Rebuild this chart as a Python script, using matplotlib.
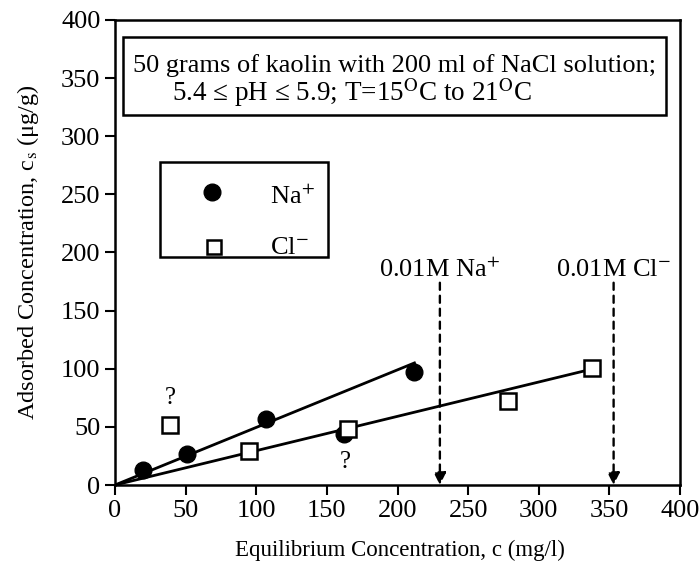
import matplotlib
matplotlib.use("Agg")
import matplotlib.pyplot as plt
from matplotlib.patches import Rectangle

plt.rcParams['font.family'] = ['Liberation Serif', 'DejaVu Serif']
plt.rcParams['mathtext.fontset'] = 'stix'

# Data
na_x = [20, 51, 107, 162, 212]
na_y = [13, 27, 57, 44, 97]
cl_x = [39, 95, 165, 278, 338]
cl_y = [52, 29, 48, 72, 101]
na_fit_x = [0, 212]
na_fit_y = [0, 105]
cl_fit_x = [0, 342]
cl_fit_y = [0, 101]
na_limit = 230
cl_limit = 353
x_ticks = [0, 50, 100, 150, 200, 250, 300, 350, 400]
y_ticks = [0, 50, 100, 150, 200, 250, 300, 350, 400]

fig = plt.figure(figsize=(7.0, 5.72), dpi=100)
ax = fig.add_axes([115/700, 87/572, 565/700, 465/572])

ax.plot(na_fit_x, na_fit_y, color='black', lw=2)
ax.plot(cl_fit_x, cl_fit_y, color='black', lw=2)
ax.plot(na_x, na_y, 'o', color='black', ms=12, zorder=5)
ax.plot(cl_x, cl_y, 's', mfc='white', mec='black', mew=1.8, ms=12, zorder=5)

ax.text(39, 75, '?', ha='center', va='center', fontsize=18)
ax.text(163, 20, '?', ha='center', va='center', fontsize=18)

for xl, lab in [(na_limit, '0.01M Na$^{+}$'), (cl_limit, '0.01M Cl$^{-}$')]:
    ax.annotate('', xy=(xl, 0), xytext=(xl, 174),
                arrowprops=dict(arrowstyle='-|>', linestyle=(0, (3, 2.5)), color='black',
                                lw=1.7, mutation_scale=18, shrinkA=0, shrinkB=0))
    ax.text(xl, 185, lab, ha='center', va='center', fontsize=19)

# Info box
ax.add_patch(Rectangle((5.7, 318), 390 - 5.7, 385 - 318, fill=False, lw=1.8, ec='black', zorder=4))
ax.text(198, 361, '50 grams of kaolin with 200 ml of NaCl solution;', ha='center', va='center', fontsize=19)
ax.text(40.5, 337.5, '5.4 \u2264 pH \u2264 5.9; T=15$^{\\mathrm{O}}$C to 21$^{\\mathrm{O}}$C', ha='left', va='center', fontsize=19.5)

# Legend box
ax.add_patch(Rectangle((32, 196), 151 - 32, 278 - 196, fill=False, lw=1.8, ec='black', zorder=4))
ax.plot([69], [252], 'o', color='black', ms=12)
ax.plot([70], [205], 's', mfc='white', mec='black', mew=1.8, ms=9.5)
ax.text(110, 248, 'Na$^{+}$', ha='left', va='center', fontsize=19)
ax.text(110, 204, 'Cl$^{-}$', ha='left', va='center', fontsize=19)

ax.set_xlim(0, 400)
ax.set_ylim(0, 400)
ax.set_xticks(x_ticks)
ax.set_yticks(y_ticks)
ax.tick_params(direction='out', length=7.5, width=1.5, labelsize=19, pad=3, top=False, right=False)
for s in ax.spines.values():
    s.set_linewidth(1.8)
ax.set_xlabel('Equilibrium Concentration, c (mg/l)', fontsize=16.5)
ax.set_ylabel('Adsorbed Concentration, c$_{\\mathrm{s}}$ (\u03bcg/g)', fontsize=17.5)
ax.xaxis.label.set_va('center')
ax.yaxis.label.set_va('center')
ax.xaxis.set_label_coords(0.505, -0.14)
ax.yaxis.set_label_coords(-0.154, 0.5)

fig.savefig('out.png', dpi=100)
